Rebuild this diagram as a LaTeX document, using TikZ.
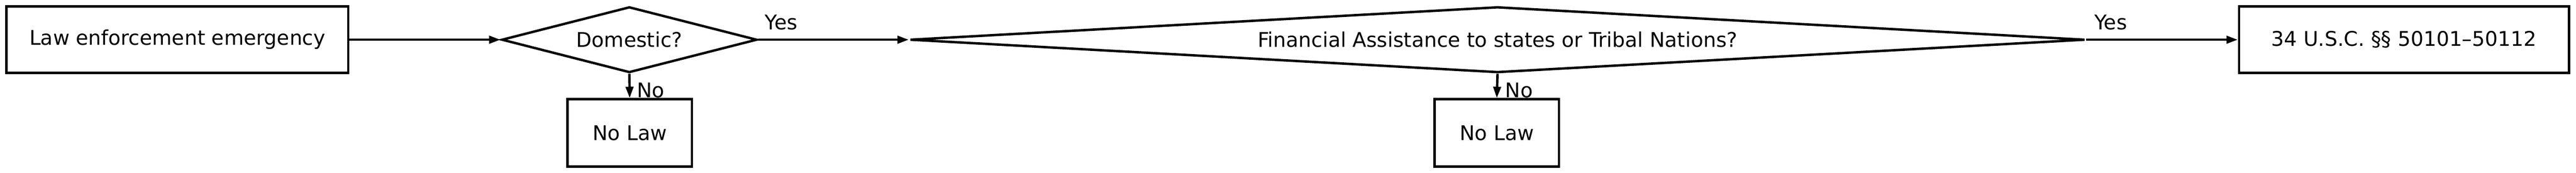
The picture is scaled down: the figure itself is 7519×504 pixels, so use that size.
\documentclass[tikz,border=0pt]{standalone}
\usepackage{fontspec}
\setmainfont{DejaVu Sans}
\usetikzlibrary{shapes.geometric,arrows.meta}

\begin{document}
\begin{tikzpicture}[x=0.01cm,y=-0.01cm,
    every node/.style={font=\fontsize{16.8pt}{20pt}\selectfont},
    box/.style={draw,line width=2pt,rectangle,inner sep=0pt,minimum height=1.94cm},
    question/.style={draw,line width=2pt,diamond,inner sep=0pt},
    flow/.style={line width=2pt,-{Triangle[length=0.33cm,width=0.22cm]}},
    answer/.style={inner sep=0pt,pos=0}]
    \useasboundingbox (0,0) rectangle (7519,504);
    \node[box,minimum width=9.97cm] (emerg) at (518,116) {Law enforcement emergency};
    \node[question,minimum width=7.45cm,minimum height=1.92cm,aspect=3.9] (dom) at (1837,116) {Domestic?};
    \node[box,minimum width=3.63cm,minimum height=1.96cm] (nolaw1) at (1838,388) {No Law};
    \node[question,minimum width=34.28cm,minimum height=1.92cm,aspect=17.8] (fin) at (4371,116) {Financial Assistance to states or Tribal Nations?};
    \node[box,minimum width=3.63cm,minimum height=1.96cm] (nolaw2) at (4369,388) {No Law};
    \node[box,minimum width=9.63cm] (usc) at (7017,116) {34 U.S.C. §§ 50101–50112};
    \draw[flow] (emerg) -- (dom);
    \draw[flow] (dom.east) -- node[answer,anchor=base west,xshift=0.16cm,yshift=0.3cm] {Yes} (fin.west);
    \draw[flow] (dom.south) -- node[answer,anchor=north west,xshift=0.19cm,yshift=-0.23cm] {No} (nolaw1.north);
    \draw[flow] (fin.east) -- node[answer,anchor=base west,xshift=0.2cm,yshift=0.3cm] {Yes} (usc.west);
    \draw[flow] (fin.south) -- node[answer,anchor=north west,xshift=0.19cm,yshift=-0.23cm] {No} (nolaw2.north);
  \end{tikzpicture}
\end{document}
